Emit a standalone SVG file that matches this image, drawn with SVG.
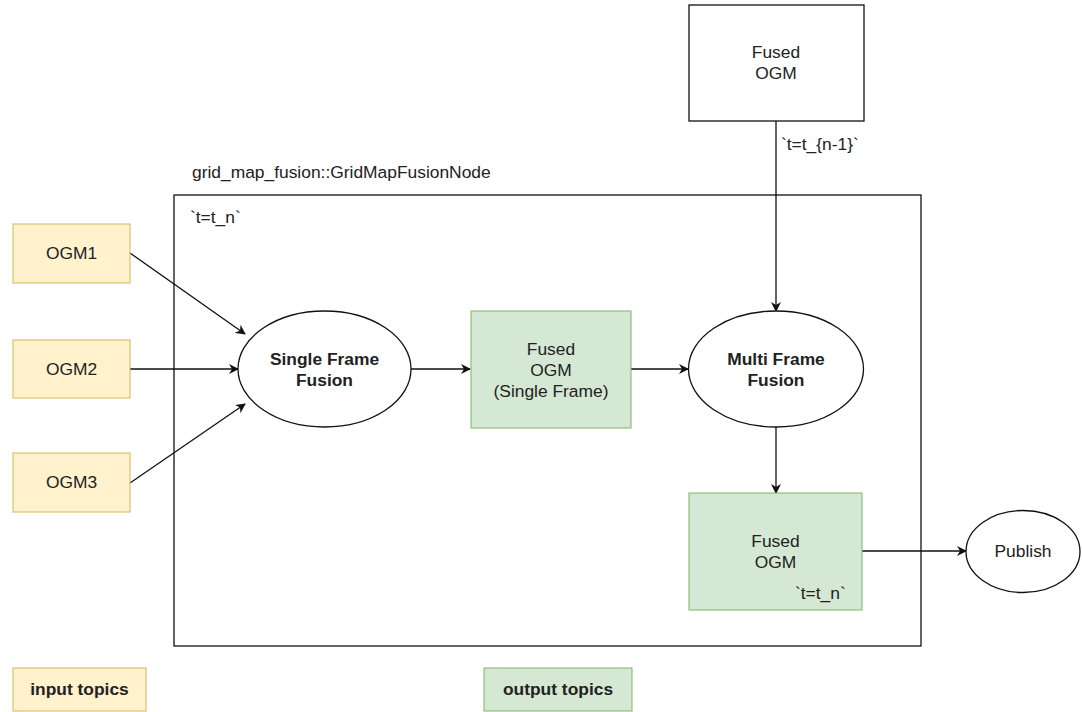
<svg xmlns="http://www.w3.org/2000/svg" width="1082" height="712" viewBox="0 0 1082 712">
<style>
text{font-family:"Liberation Sans",Arial,sans-serif;font-size:17.4px;fill:#222}
.b{font-weight:bold}
.in{fill:#fff2cc;stroke:#d6b656;stroke-width:1}
.out{fill:#d5e8d4;stroke:#82b366;stroke-width:1}
.plain{fill:#fff;stroke:#111;stroke-width:1.3}
.edge{stroke:#111;stroke-width:1.3;fill:none;marker-end:url(#ah)}
</style>
<defs>
<marker id="ah" viewBox="0 0 10 10" refX="9" refY="5" markerWidth="10" markerHeight="10" markerUnits="userSpaceOnUse" orient="auto">
<path d="M0,0 L10,5 L0,10 L3,5 Z" fill="#111"/>
</marker>
</defs>
<rect width="1082" height="712" fill="#fff"/>
<g id="container">
<rect x="174" y="195" width="747" height="451" fill="none" stroke="#111" stroke-width="1.3"/>
<text x="192" y="178">grid_map_fusion::GridMapFusionNode</text>
<text x="190" y="223">`t=t_n`</text>
</g>
<g id="connectors">
<line class="edge" x1="130" y1="253" x2="245" y2="334"/>
<line class="edge" x1="130" y1="369" x2="238" y2="369"/>
<line class="edge" x1="130" y1="483" x2="245" y2="404"/>
<line class="edge" x1="411" y1="369" x2="470" y2="369"/>
<line class="edge" x1="631" y1="369" x2="688" y2="369"/>
<line class="edge" x1="776" y1="121" x2="776" y2="311"/>
<line class="edge" x1="776" y1="427" x2="776" y2="493"/>
<line class="edge" x1="862" y1="551" x2="966" y2="551"/>
<text x="781" y="150">`t=t_{n-1}`</text>
</g>
<g id="ogm1"><rect class="in" x="13" y="224" width="117" height="59"/><text x="71.5" y="259" text-anchor="middle">OGM1</text></g>
<g id="ogm2"><rect class="in" x="13" y="340" width="117" height="58"/><text x="71.5" y="375" text-anchor="middle">OGM2</text></g>
<g id="ogm3"><rect class="in" x="13" y="453" width="117" height="59"/><text x="71.5" y="488" text-anchor="middle">OGM3</text></g>
<g id="sff"><ellipse class="plain" cx="324.5" cy="369" rx="86.5" ry="58"/><text class="b" x="324.5" y="365" text-anchor="middle">Single Frame</text><text class="b" x="324.5" y="386" text-anchor="middle">Fusion</text></g>
<g id="fused-single"><rect class="out" x="471" y="311" width="160" height="117"/><text x="551" y="355" text-anchor="middle">Fused</text><text x="551" y="376" text-anchor="middle">OGM</text><text x="551" y="397" text-anchor="middle">(Single Frame)</text></g>
<g id="mff"><ellipse class="plain" cx="776" cy="369" rx="87.5" ry="58"/><text class="b" x="776" y="365" text-anchor="middle">Multi Frame</text><text class="b" x="776" y="386" text-anchor="middle">Fusion</text></g>
<g id="fused-prev"><rect class="plain" x="689" y="5" width="175" height="116"/><text x="776" y="58" text-anchor="middle">Fused</text><text x="776" y="79" text-anchor="middle">OGM</text></g>
<g id="fused-out"><rect class="out" x="689" y="493" width="173" height="117"/><text x="775.5" y="547" text-anchor="middle">Fused</text><text x="775.5" y="568" text-anchor="middle">OGM</text><text x="795" y="599">`t=t_n`</text></g>
<g id="publish"><ellipse class="plain" cx="1023" cy="551.5" rx="57" ry="41"/><text x="1023" y="557" text-anchor="middle">Publish</text></g>
<g id="legend-in"><rect class="in" x="13" y="668" width="133" height="43"/><text class="b" x="79.5" y="695" text-anchor="middle">input topics</text></g>
<g id="legend-out"><rect class="out" x="484" y="668" width="148" height="43"/><text class="b" x="558" y="695" text-anchor="middle">output topics</text></g>
</svg>
